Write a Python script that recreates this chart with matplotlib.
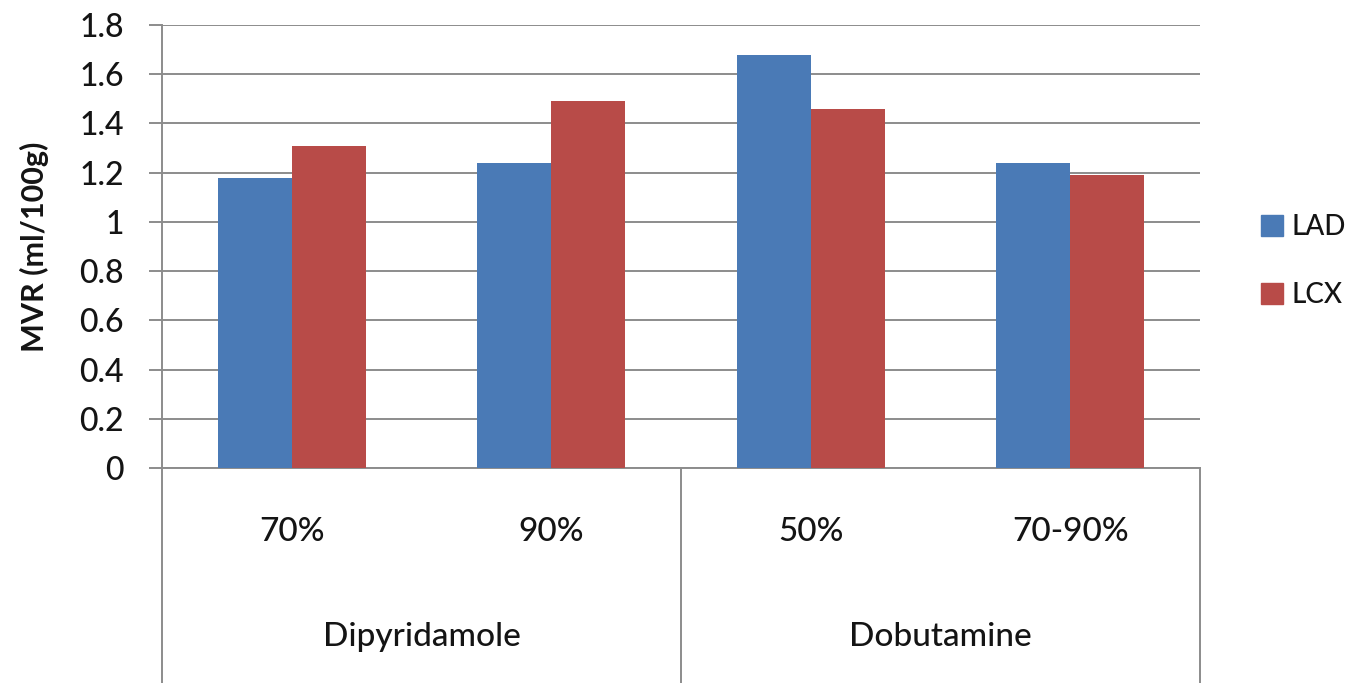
import matplotlib

matplotlib.use("Agg")

import matplotlib.pyplot as plt
import numpy as np
from matplotlib.patches import Patch

plt.rcParams["font.family"] = ["Lato", "DejaVu Sans"]

categories = ["70%", "90%", "50%", "70-90%"]
groups = ["Dipyridamole", "Dobutamine"]
group_sizes = [2, 2]
lad = [1.18, 1.24, 1.68, 1.24]
lcx = [1.31, 1.49, 1.46, 1.19]
yticks = [0, 0.2, 0.4, 0.6, 0.8, 1, 1.2, 1.4, 1.6, 1.8]
yticklabels = ["0", "0.2", "0.4", "0.6", "0.8", "1", "1.2", "1.4", "1.6", "1.8"]

BLUE = "#4A7AB6"
RED = "#B84B48"
GRID = "#8C8C8C"
TEXT = "#141414"


def main() -> None:
    fig = plt.figure(figsize=(13.56, 6.83), dpi=100)
    ax = fig.add_axes([0.1195, 0.3148, 0.7655, 0.6486])

    x = np.arange(len(categories))
    width = 0.285
    ax.bar(x - width / 2, lad, width, color=BLUE, zorder=3, label="LAD")
    ax.bar(x + width / 2, lcx, width, color=RED, zorder=3, label="LCX")

    ax.set_xlim(-0.5, len(categories) - 0.5)
    ax.set_ylim(0, 1.8)
    ax.set_yticks(yticks)
    ax.set_yticklabels(yticklabels, fontsize=23, color=TEXT, fontweight="medium")
    ax.set_xticks([])
    ax.tick_params(axis="y", length=9.5, width=1.4, color=GRID, pad=18)
    ax.yaxis.grid(True, color=GRID, linewidth=1.4, zorder=0)

    for side in ("top", "right"):
        ax.spines[side].set_visible(False)
    for side in ("left", "bottom"):
        ax.spines[side].set_color(GRID)
        ax.spines[side].set_linewidth(1.4)

    ax.set_ylabel("MVR (ml/100g)", fontsize=22, fontweight="bold", color=TEXT, labelpad=22)

    # two-level category axis below the plot
    trans = ax.get_xaxis_transform()
    edges = np.cumsum([0] + group_sizes) - 0.5
    for e in edges:
        ax.plot([e, e], [0, -0.6], transform=trans, color=GRID, lw=1.4, clip_on=False)
    for xi, name in zip(x, categories):
        ax.text(xi, -0.145, name, transform=trans, ha="center", va="center",
                fontsize=24, color=TEXT, fontweight="medium")
    for i, name in enumerate(groups):
        mid = (edges[i] + edges[i + 1]) / 2
        ax.text(mid, -0.382, name, transform=trans, ha="center", va="center",
                fontsize=24, color=TEXT, fontweight="medium")

    handles = [Patch(color=BLUE, label="LAD"), Patch(color=RED, label="LCX")]
    leg = ax.legend(handles=handles, loc="center left", bbox_to_anchor=(1.045, 0.467),
                    frameon=False, borderpad=0, handlelength=0.8,
                    handleheight=0.8, handletextpad=0.3, labelspacing=1.5,
                    prop={"size": 20, "weight": "medium"}, labelcolor=TEXT)

    fig.savefig("out.png", dpi=100)
    plt.close(fig)


if __name__ == "__main__":
    main()
